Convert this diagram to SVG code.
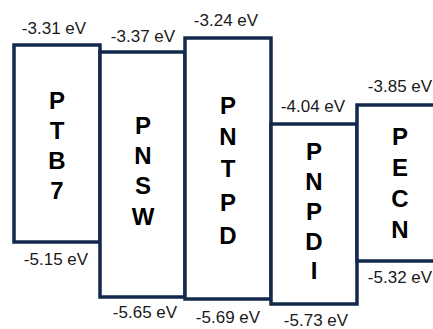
<svg xmlns="http://www.w3.org/2000/svg" width="433" height="329" viewBox="0 0 433 329">
  <style>
    .lvl { fill: #ffffff; stroke: #13294b; stroke-width: 3.5; }
    .name { font-family: "Liberation Sans", Arial, sans-serif; font-weight: bold; font-size: 24px; fill: #000000; text-anchor: middle; }
    .ev { font-family: "Liberation Sans", Arial, sans-serif; font-size: 17px; fill: #1a1a1a; text-anchor: middle; }
  </style>
  <rect width="433" height="329" fill="#ffffff"/>

  <g id="PTB7">
    <rect class="lvl" x="14" y="45" width="86" height="197"/>
    <text class="name" x="57" y="109">P</text>
    <text class="name" x="57" y="139">T</text>
    <text class="name" x="57" y="169">B</text>
    <text class="name" x="57" y="199">7</text>
    <text class="ev" x="54" y="34">-3.31 eV</text>
    <text class="ev" x="56" y="265">-5.15 eV</text>
  </g>

  <g id="PNSW">
    <rect class="lvl" x="100" y="52" width="85" height="245"/>
    <text class="name" x="143" y="134">P</text>
    <text class="name" x="143" y="164">N</text>
    <text class="name" x="143" y="194">S</text>
    <text class="name" x="143" y="225">W</text>
    <text class="ev" x="143" y="42">-3.37 eV</text>
    <text class="ev" x="145" y="318">-5.65 eV</text>
  </g>

  <g id="PNTPD">
    <rect class="lvl" x="185" y="38" width="86" height="261"/>
    <text class="name" x="228" y="114">P</text>
    <text class="name" x="228" y="145">N</text>
    <text class="name" x="228" y="177">T</text>
    <text class="name" x="228" y="211">P</text>
    <text class="name" x="228" y="244">D</text>
    <text class="ev" x="226" y="26">-3.24 eV</text>
    <text class="ev" x="228" y="323">-5.69 eV</text>
  </g>

  <g id="PNPDI">
    <rect class="lvl" x="271" y="124" width="86" height="180"/>
    <text class="name" x="314" y="160">P</text>
    <text class="name" x="314" y="190">N</text>
    <text class="name" x="314" y="220">P</text>
    <text class="name" x="314" y="250">D</text>
    <text class="name" x="314" y="279">I</text>
    <text class="ev" x="313" y="112">-4.04 eV</text>
    <text class="ev" x="316" y="326">-5.73 eV</text>
  </g>

  <g id="PECN">
    <rect class="lvl" x="357" y="105" width="90" height="156"/>
    <text class="name" x="400" y="145">P</text>
    <text class="name" x="400" y="176">E</text>
    <text class="name" x="400" y="207">C</text>
    <text class="name" x="400" y="238">N</text>
    <text class="ev" x="400" y="92">-3.85 eV</text>
    <text class="ev" x="400" y="283">-5.32 eV</text>
  </g>

  <g id="connectors"></g>
</svg>
